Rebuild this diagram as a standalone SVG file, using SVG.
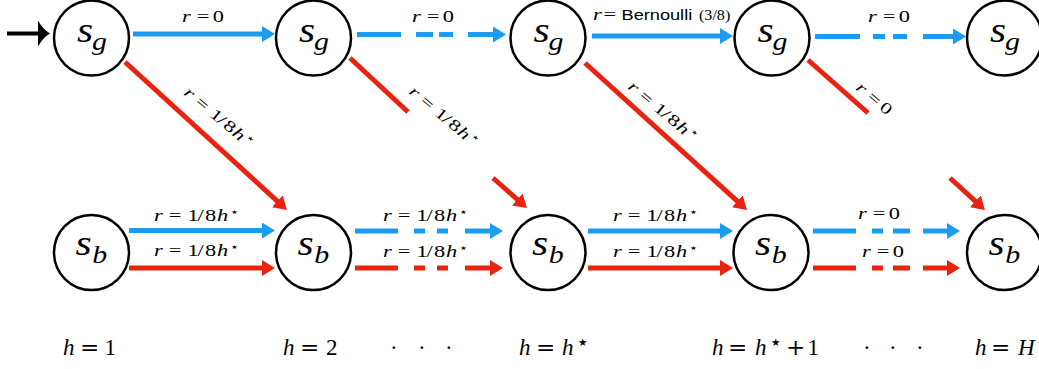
<svg xmlns="http://www.w3.org/2000/svg" width="1039" height="369" viewBox="0 0 1039 369">
<style>
.node circle{fill:#fff;stroke:#000;stroke-width:2.5}
text{font-family:'Liberation Serif','Times New Roman',serif;fill:#000}
.nt{font-style:italic;font-size:36px}
.sub{font-size:26px}
.lbl{font-size:16px}
.hl{font-size:23px}
.it{font-style:italic}
.eq{font-family:'DejaVu Serif',serif;font-style:normal}
.st{font-family:'DejaVu Sans',sans-serif;font-size:5.5px}
.st2{font-family:'DejaVu Sans',sans-serif;font-size:10.5px}
.sans{font-family:'Liberation Sans',Arial,sans-serif;font-size:14px}
.blue{fill:none;stroke:#1c9cf0;stroke-width:5}
.red{fill:none;stroke:#e8230f;stroke-width:5}
</style>
<defs>
<marker id="ab" markerUnits="userSpaceOnUse" markerWidth="13" markerHeight="16" viewBox="0 0 13 16" refX="1" refY="8" orient="auto"><path d="M0,0 L13,8 L0,16 Z" fill="#1c9cf0"/></marker>
<marker id="ar" markerUnits="userSpaceOnUse" markerWidth="13" markerHeight="16" viewBox="0 0 13 16" refX="1" refY="8" orient="auto"><path d="M0,0 L13,8 L0,16 Z" fill="#e8230f"/></marker>
<marker id="ak" markerUnits="userSpaceOnUse" markerWidth="12" markerHeight="26" viewBox="0 0 12 26" refX="1" refY="13" orient="auto"><path d="M0,0 Q5,9 12,13 Q5,17 0,26 Z" fill="#000"/></marker>
</defs>

<g id="connectors">
  <path d="M7,33.5 H39" stroke="#000" stroke-width="4" fill="none" marker-end="url(#ak)"/>
  <path class="blue" d="M133,34 H263" marker-end="url(#ab)"/>
  <path class="blue" d="M357,34.5 H401 M416,34.5 H433 M439,34.5 H453 M468,34.5 H494" marker-end="url(#ab)"/>
  <path class="blue" d="M592,36 H721" marker-end="url(#ab)"/>
  <path class="blue" d="M815,36.5 H860 M873,36.5 H885 M893,36.5 H907 M923,36.5 H954" marker-end="url(#ab)"/>
  <path class="red" d="M125,62 L278.1,201.9" marker-end="url(#ar)"/>
  <path class="red" d="M350,58 L408,112"/>
  <path class="red" d="M493,178 L518,200.1" marker-end="url(#ar)"/>
  <path class="red" d="M585,63 L738.1,201.9" marker-end="url(#ar)"/>
  <path class="red" d="M808,60 L868,113"/>
  <path class="red" d="M950,178 L976.1,201.9" marker-end="url(#ar)"/>
  <path class="blue" d="M129,230.5 H263" marker-end="url(#ab)"/>
  <path class="red" d="M129,268 H263" marker-end="url(#ar)"/>
  <path class="blue" d="M355,231 H398 M414,231 H425 M437,231 H448 M465,231 H491" marker-end="url(#ab)"/>
  <path class="red" d="M355,268 H398 M414,268 H425 M437,268 H448 M465,268 H491" marker-end="url(#ar)"/>
  <path class="blue" d="M588,231 H721" marker-end="url(#ab)"/>
  <path class="red" d="M588,268 H721" marker-end="url(#ar)"/>
  <path class="blue" d="M813,231 H856 M872,231 H883 M893,231 H910 M923,231 H948" marker-end="url(#ab)"/>
  <path class="red" d="M813,268 H856 M872,268 H883 M893,268 H910 M923,268 H948" marker-end="url(#ar)"/>
</g>

<g id="edge-labels">
  <text class="lbl" transform="translate(182,22) scale(1.4,1)"><tspan class="it" x="0">r</tspan><tspan x="10.5">=</tspan><tspan x="22">0</tspan></text>
  <text class="lbl" transform="translate(412,22) scale(1.4,1)"><tspan class="it" x="0">r</tspan><tspan x="10.5">=</tspan><tspan x="22">0</tspan></text>
  <text class="lbl" transform="translate(593,20) scale(1.4,1)"><tspan class="it" x="0">r</tspan><tspan x="7.5">=</tspan></text>
  <text class="sans" transform="translate(621.5,20) scale(1.3,1)">Bernoulli</text>
  <text transform="translate(699,20) scale(1.15,1)" style="font-size:14px">(3/8)</text>
  <text class="lbl" transform="translate(868,22) scale(1.4,1)"><tspan class="it" x="0">r</tspan><tspan x="10.5">=</tspan><tspan x="22">0</tspan></text>

  <text class="lbl" transform="translate(183,94) rotate(40) scale(1.4,1)"><tspan class="it" x="0">r</tspan><tspan x="10.5">=</tspan><tspan x="24 31 36.5">1/8</tspan><tspan class="it" x="45">h</tspan><tspan class="st" x="55" dy="-7.5">★</tspan></text>
  <text class="lbl" transform="translate(408,93) rotate(40) scale(1.4,1)"><tspan class="it" x="0">r</tspan><tspan x="10.5">=</tspan><tspan x="24 31 36.5">1/8</tspan><tspan class="it" x="45">h</tspan><tspan class="st" x="55" dy="-7.5">★</tspan></text>
  <text class="lbl" transform="translate(627,88) rotate(40) scale(1.4,1)"><tspan class="it" x="0">r</tspan><tspan x="10.5">=</tspan><tspan x="24 31 36.5">1/8</tspan><tspan class="it" x="45">h</tspan><tspan class="st" x="55" dy="-7.5">★</tspan></text>
  <text class="lbl" transform="translate(855,89) rotate(40) scale(1.4,1)"><tspan class="it" x="0">r</tspan><tspan x="10.5">=</tspan><tspan x="22">0</tspan></text>

  <text class="lbl" transform="translate(154,221) scale(1.4,1)"><tspan class="it" x="0">r</tspan><tspan x="10.5">=</tspan><tspan x="24 31 36.5">1/8</tspan><tspan class="it" x="45">h</tspan><tspan class="st" x="55" dy="-7.5">★</tspan></text>
  <text class="lbl" transform="translate(154,256) scale(1.4,1)"><tspan class="it" x="0">r</tspan><tspan x="10.5">=</tspan><tspan x="24 31 36.5">1/8</tspan><tspan class="it" x="45">h</tspan><tspan class="st" x="55" dy="-7.5">★</tspan></text>
  <text class="lbl" transform="translate(383,221) scale(1.4,1)"><tspan class="it" x="0">r</tspan><tspan x="10.5">=</tspan><tspan x="24 31 36.5">1/8</tspan><tspan class="it" x="45">h</tspan><tspan class="st" x="55" dy="-7.5">★</tspan></text>
  <text class="lbl" transform="translate(383,257) scale(1.4,1)"><tspan class="it" x="0">r</tspan><tspan x="10.5">=</tspan><tspan x="24 31 36.5">1/8</tspan><tspan class="it" x="45">h</tspan><tspan class="st" x="55" dy="-7.5">★</tspan></text>
  <text class="lbl" transform="translate(613,221) scale(1.4,1)"><tspan class="it" x="0">r</tspan><tspan x="10.5">=</tspan><tspan x="24 31 36.5">1/8</tspan><tspan class="it" x="45">h</tspan><tspan class="st" x="55" dy="-7.5">★</tspan></text>
  <text class="lbl" transform="translate(613,257) scale(1.4,1)"><tspan class="it" x="0">r</tspan><tspan x="10.5">=</tspan><tspan x="24 31 36.5">1/8</tspan><tspan class="it" x="45">h</tspan><tspan class="st" x="55" dy="-7.5">★</tspan></text>
  <text class="lbl" transform="translate(858,219) scale(1.4,1)"><tspan class="it" x="0">r</tspan><tspan x="10.5">=</tspan><tspan x="22">0</tspan></text>
  <text class="lbl" transform="translate(862,257) scale(1.4,1)"><tspan class="it" x="0">r</tspan><tspan x="10.5">=</tspan><tspan x="22">0</tspan></text>
</g>

<g id="sg1" class="node"><circle cx="91.5" cy="38" r="37.5"/><text class="nt" transform="translate(77,42) scale(1.15,1)">s<tspan class="sub" x="13" dy="8">g</tspan></text></g>
<g id="sg2" class="node"><circle cx="313.5" cy="38" r="37.5"/><text class="nt" transform="translate(299,42) scale(1.15,1)">s<tspan class="sub" x="13" dy="8">g</tspan></text></g>
<g id="sg3" class="node"><circle cx="548" cy="38" r="37.5"/><text class="nt" transform="translate(533.5,42) scale(1.15,1)">s<tspan class="sub" x="13" dy="8">g</tspan></text></g>
<g id="sg4" class="node"><circle cx="772" cy="38" r="37.5"/><text class="nt" transform="translate(757.5,42) scale(1.15,1)">s<tspan class="sub" x="13" dy="8">g</tspan></text></g>
<g id="sg5" class="node"><circle cx="1004.5" cy="38" r="37.5"/><text class="nt" transform="translate(990,42) scale(1.15,1)">s<tspan class="sub" x="13" dy="8">g</tspan></text></g>

<g id="sb1" class="node"><circle cx="91.5" cy="252.5" r="37.5"/><text class="nt" transform="translate(75.5,255) scale(1.15,1)">s<tspan class="sub" x="14.5" dy="8">b</tspan></text></g>
<g id="sb2" class="node"><circle cx="313.5" cy="252.5" r="37.5"/><text class="nt" transform="translate(297.5,255) scale(1.15,1)">s<tspan class="sub" x="14.5" dy="8">b</tspan></text></g>
<g id="sb3" class="node"><circle cx="548" cy="252.5" r="37.5"/><text class="nt" transform="translate(532,255) scale(1.15,1)">s<tspan class="sub" x="14.5" dy="8">b</tspan></text></g>
<g id="sb4" class="node"><circle cx="771" cy="252.5" r="37.5"/><text class="nt" transform="translate(755,255) scale(1.15,1)">s<tspan class="sub" x="14.5" dy="8">b</tspan></text></g>
<g id="sb5" class="node"><circle cx="1004.5" cy="252.5" r="37.5"/><text class="nt" transform="translate(988.5,255) scale(1.15,1)">s<tspan class="sub" x="14.5" dy="8">b</tspan></text></g>

<g id="step-labels">
  <text class="hl" y="355"><tspan class="it" x="63">h</tspan><tspan class="eq" x="80">=</tspan><tspan x="104.5">1</tspan></text>
  <text class="hl" y="355"><tspan class="it" x="283">h</tspan><tspan class="eq" x="300">=</tspan><tspan x="326">2</tspan></text>
  <text class="hl" y="355" x="390 418 445">···</text>
  <text class="hl" y="355"><tspan class="it" x="519">h</tspan><tspan class="eq" x="536">=</tspan><tspan class="it" x="562">h</tspan><tspan class="st2" x="578" dy="-9">★</tspan></text>
  <text class="hl" y="355"><tspan class="it" x="712">h</tspan><tspan class="eq" x="728">=</tspan><tspan class="it" x="755">h</tspan><tspan class="st2" x="771" dy="-9">★</tspan><tspan class="eq" x="786" dy="9">+</tspan><tspan x="807.5">1</tspan></text>
  <text class="hl" y="355" x="863 889 916">···</text>
  <text class="hl" y="355"><tspan class="it" x="975">h</tspan><tspan class="eq" x="991">=</tspan><tspan class="it" x="1018">H</tspan></text>
</g>
</svg>
